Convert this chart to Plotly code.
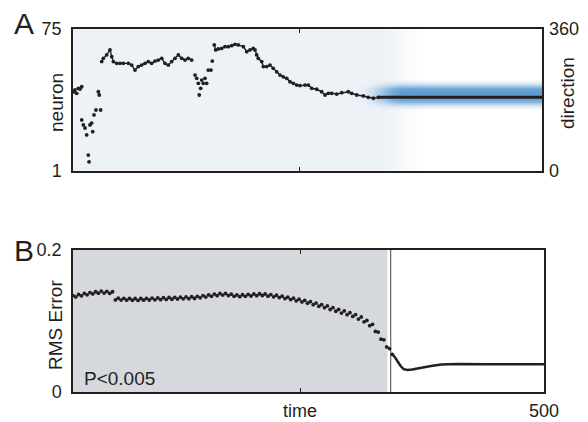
import plotly.graph_objects as go

# ---------------- Panel A data ----------------
# scattered decoded-neuron estimates (markers only)
scatter_time = [0.5, 2.1, 3.9, 5.7, 7.5, 9.3, 9.3, 11.0, 12.8, 14.6, 16.3, 17.1, 18.1, 19.9, 21.0,
                22.4, 24.5, 27.0, 28.0, 29.5,
                130.1, 131.9, 133.6, 134.6, 136.1, 137.2, 138.9, 140.7, 142.5, 144.2, 147.1, 148.5]
scatter_neuron = [42.2, 43.2, 41.5, 44.1, 43.7, 44.9, 27.6, 25.0, 23.4, 19.8, 9.3, 5.8, 25.0, 26.0, 21.5,
                  30.2, 32.8, 42.3, 40.6, 32.8,
                  51.0, 49.3, 46.7, 40.6, 44.1, 48.4, 46.7, 49.3, 46.7, 53.6, 53.6, 58.3]

# continuous track segment 1
track1_time = [30.6, 32.3, 35.9, 39.4, 41.3, 43.0, 46.6, 50.1, 53.6, 59.0, 62.6, 66.1, 69.6, 73.2,
               76.8, 80.3, 83.9, 87.4, 90.9, 94.6, 98.1, 101.6, 105.2, 108.7, 112.3, 115.9, 119.4,
               122.9, 126.5]
track1_neuron = [58.0, 59.7, 61.5, 64.1, 60.6, 58.0, 57.1, 57.1, 57.1, 57.1, 56.2, 53.6, 55.4, 56.2,
                 57.1, 58.0, 57.1, 58.3, 58.8, 59.7, 57.1, 56.2, 58.0, 59.7, 61.5, 59.7, 58.8,
                 59.7, 58.8]

# continuous track segment 2
track2_time = [150.6, 152.1, 154.9, 158.5, 162.0, 165.6, 169.2, 172.7, 176.2, 181.6, 185.2, 188.7,
               192.2, 194.0, 195.8, 197.5, 201.2, 202.9, 206.5, 210.0, 213.5, 217.2, 220.7, 224.2,
               227.8, 231.3, 234.9, 238.5, 242.0, 247.3, 250.9, 254.5, 259.8, 265.1, 268.7, 272.2,
               275.8, 281.1, 286.5, 293.5, 297.1, 302.5, 309.5, 314.8, 320.2, 325.5]
track2_neuron = [66.7, 64.1, 64.6, 64.9, 65.8, 65.8, 66.3, 67.0, 66.7, 65.8, 63.2, 64.1,
                 64.9, 64.1, 61.5, 59.7, 58.0, 55.4, 55.4, 56.2, 54.5, 52.7, 51.0, 50.1,
                 49.3, 47.5, 46.7, 45.8, 45.5, 45.8, 45.8, 44.1, 43.6, 42.3, 40.6, 41.5,
                 41.5, 41.1, 41.8, 42.3, 41.5, 40.6, 40.1, 39.4, 38.9, 39.4]

# converged (flat) part
flat_time = [325.5, 500]
flat_neuron = [39.4, 39.4]

# background activity heat map (columns every 10 time units, 0..500)
heat_time = list(range(0, 501, 10))
neurons = list(range(1, 76))
bg_level = [1.0] * 34 + [0.85, 0.55, 0.25, 0.08] + [0.0] * 13
band_level = [0.0] * 31 + [0.05, 0.2, 0.45, 0.75, 0.95] + [1.0] * 15
band_neurons = [34, 35, 36, 37, 38, 39, 40, 41, 42, 43, 44, 45, 46, 47, 48]
band_weights = [0.05, 0.15, 0.35, 0.6, 0.8, 0.92, 1.0, 1.0, 1.0, 0.92, 0.8, 0.6, 0.35, 0.15, 0.05]

# ---------------- Panel B data ----------------
rms_time_dots = list(range(0, 342, 3))
rms_dots = [0.1358, 0.1339, 0.1373, 0.1354, 0.1388, 0.1369, 0.1401, 0.1381, 0.1412, 0.1392,
            0.1421, 0.1393, 0.1417, 0.1389, 0.1412, 0.1297, 0.1322, 0.1295, 0.1320, 0.1293,
            0.1318, 0.1292, 0.1317, 0.1290, 0.1317, 0.1293, 0.1320, 0.1296, 0.1323, 0.1298,
            0.1325, 0.1301, 0.1328, 0.1304, 0.1331, 0.1306, 0.1334, 0.1309, 0.1336, 0.1312,
            0.1339, 0.1315, 0.1342, 0.1317, 0.1347, 0.1327, 0.1358, 0.1337, 0.1368, 0.1348,
            0.1379, 0.1357, 0.1387, 0.1365, 0.1389, 0.1358, 0.1378, 0.1347, 0.1367, 0.1342,
            0.1370, 0.1347, 0.1376, 0.1352, 0.1380, 0.1356, 0.1384, 0.1359, 0.1380, 0.1350,
            0.1372, 0.1341, 0.1363, 0.1330, 0.1349, 0.1316, 0.1335, 0.1302, 0.1322, 0.1284,
            0.1306, 0.1268, 0.1290, 0.1251, 0.1274, 0.1230, 0.1253, 0.1208, 0.1232, 0.1187,
            0.1212, 0.1162, 0.1187, 0.1137, 0.1163, 0.1112, 0.1142, 0.1089, 0.1117, 0.1064,
            0.1091, 0.1027, 0.1056, 0.0989, 0.1008, 0.0934, 0.0953, 0.0853, 0.0844, 0.0744,
            0.0735, 0.0635, 0.0612, 0.0530]
rms_time_line = [339, 342, 345, 348, 351, 355, 360, 366, 373, 380, 391, 409, 440, 470, 500]
rms_line = [0.0530, 0.0486, 0.0423, 0.0362, 0.0322, 0.0310, 0.0318, 0.0334, 0.0350, 0.0366,
            0.0387, 0.0394, 0.0391, 0.0390, 0.0390]

SHADE_END = 335  # end of the shaded (pre-convergence) period

x_ticks = [241, 500]
x_ticktext = ["time", "500"]

# ---------------- build heat map z ----------------
BG_Z = 0.07
weight_of = dict(zip(band_neurons, band_weights))
z = []
for n in neurons:
    w = weight_of.get(n, 0.0)
    z.append([min(1.0, bg * BG_Z + bl * w) for bg, bl in zip(bg_level, band_level)])

FONT = "Liberation Sans, Arial, Helvetica, sans-serif"
INK = "#231f20"

fig = go.Figure()

fig.add_trace(go.Heatmap(
    x=heat_time, y=neurons, z=z, zmin=0, zmax=1, zsmooth="best", showscale=False,
    hoverinfo="skip", xaxis="x", yaxis="y",
    colorscale=[[0, "#ffffff"], [0.07, "#edf2f7"], [0.3, "#c2d9ee"],
                [0.65, "#86b5de"], [1, "#5f9bd0"]]))

for tt, nn in [(track1_time, track1_neuron), (track2_time, track2_neuron)]:
    fig.add_trace(go.Scatter(x=tt, y=nn, mode="lines+markers", xaxis="x", yaxis="y",
                             line=dict(color=INK, width=1.4),
                             marker=dict(color=INK, size=3.8), hoverinfo="skip"))
fig.add_trace(go.Scatter(x=scatter_time, y=scatter_neuron, mode="markers", xaxis="x", yaxis="y",
                         marker=dict(color=INK, size=3.8), hoverinfo="skip"))
fig.add_trace(go.Scatter(x=flat_time, y=flat_neuron, mode="lines", xaxis="x", yaxis="y",
                         line=dict(color=INK, width=3), hoverinfo="skip"))
# invisible trace to carry the right-hand direction axis
fig.add_trace(go.Scatter(x=[0], y=[0], mode="markers", xaxis="x", yaxis="y3",
                         marker=dict(opacity=0), hoverinfo="skip"))

fig.add_trace(go.Scatter(x=rms_time_dots, y=rms_dots, mode="markers", xaxis="x2", yaxis="y2",
                         marker=dict(color=INK, size=3.8), hoverinfo="skip"))
fig.add_trace(go.Scatter(x=rms_time_line, y=rms_line, mode="lines", xaxis="x2", yaxis="y2",
                         line=dict(color=INK, width=2.5), hoverinfo="skip"))

axis_common = dict(showgrid=False, zeroline=False, showline=True, linecolor=INK, linewidth=1.5,
                   automargin=False, tickfont=dict(family=FONT, size=18, color=INK))

fig.update_layout(
    width=588, height=422, margin=dict(l=0, r=0, t=0, b=0, pad=0, autoexpand=False),
    paper_bgcolor="white", plot_bgcolor="white", showlegend=False,
    font=dict(family=FONT, color=INK),
    xaxis=dict(domain=[73 / 588, 542 / 588], anchor="y", range=[0, 500],
               tickvals=[x_ticks[0]], showticklabels=False, ticks="inside", ticklen=4,
               tickcolor=INK, mirror="ticks", **axis_common),
    yaxis=dict(domain=[1 - 171 / 422, 1 - 29 / 422], anchor="x", range=[1, 75],
               tickvals=[1, 75], ticktext=["1", "75"], ticks="", mirror=True,
               ticklabelstandoff=6, **axis_common),
    yaxis3=dict(overlaying="y", side="right", anchor="x", range=[0, 360],
                tickvals=[0, 360], ticktext=["0", "360"], ticks="", showline=False,
                showgrid=False, zeroline=False, ticklabelstandoff=6, automargin=False,
                tickfont=dict(family=FONT, size=18, color=INK)),
    xaxis2=dict(domain=[73 / 588, 544 / 588], anchor="y2", range=[0, 500],
                tickvals=x_ticks, ticktext=x_ticktext, ticks="inside", ticklen=4,
                tickcolor=INK, mirror="ticks", ticklabelstandoff=2, **axis_common),
    yaxis2=dict(domain=[1 - 392 / 422, 1 - 250 / 422], anchor="x2", range=[0, 0.2],
                tickvals=[0, 0.2], ticktext=["0", "0.2"], ticks="", mirror=True,
                ticklabelstandoff=6, **axis_common),
    shapes=[
        dict(type="rect", xref="x2", yref="y2", x0=0, x1=SHADE_END, y0=0, y1=0.2,
             fillcolor="#d5d8dc", line=dict(width=0), layer="below"),
        dict(type="line", xref="x2", yref="y2", x0=SHADE_END, x1=SHADE_END, y0=0, y1=0.2,
             line=dict(color="white", width=2.5), layer="below"),
        dict(type="line", xref="x2", yref="y2", x0=SHADE_END + 2.3, x1=SHADE_END + 2.3,
             y0=0, y1=0.2, line=dict(color="#444444", width=1), layer="below"),
    ],
    annotations=[
        dict(text="A", x=12 / 588, y=1 - 23.5 / 422, xref="paper", yref="paper",
             xanchor="left", yanchor="middle", showarrow=False,
             font=dict(family=FONT, size=30, color=INK)),
        dict(text="B", x=12 / 588, y=1 - 250 / 422, xref="paper", yref="paper",
             xanchor="left", yanchor="middle", showarrow=False,
             font=dict(family=FONT, size=30, color=INK)),
        dict(text="neuron", x=56 / 588, y=1 - 103 / 422, xref="paper", yref="paper",
             xanchor="center", yanchor="middle",
             textangle=-90, showarrow=False, font=dict(family=FONT, size=19, color=INK)),
        dict(text="direction", x=567 / 588, y=1 - 93 / 422, xref="paper", yref="paper",
             xanchor="center", yanchor="middle",
             textangle=-90, showarrow=False, font=dict(family=FONT, size=19, color=INK)),
        dict(text="RMS Error", x=55 / 588, y=1 - 325 / 422, xref="paper", yref="paper",
             xanchor="center", yanchor="middle",
             textangle=-90, showarrow=False, font=dict(family=FONT, size=19, color=INK)),
        dict(text="P<0.005", x=82 / 588, y=1 - 378 / 422, xref="paper", yref="paper",
             xanchor="left", yanchor="middle", showarrow=False,
             font=dict(family=FONT, size=19, color=INK)),
    ],
)

fig.write_html("out.html", config={"displayModeBar": False},
               post_script="document.body.style.margin='0px';document.body.style.padding='0px';")
